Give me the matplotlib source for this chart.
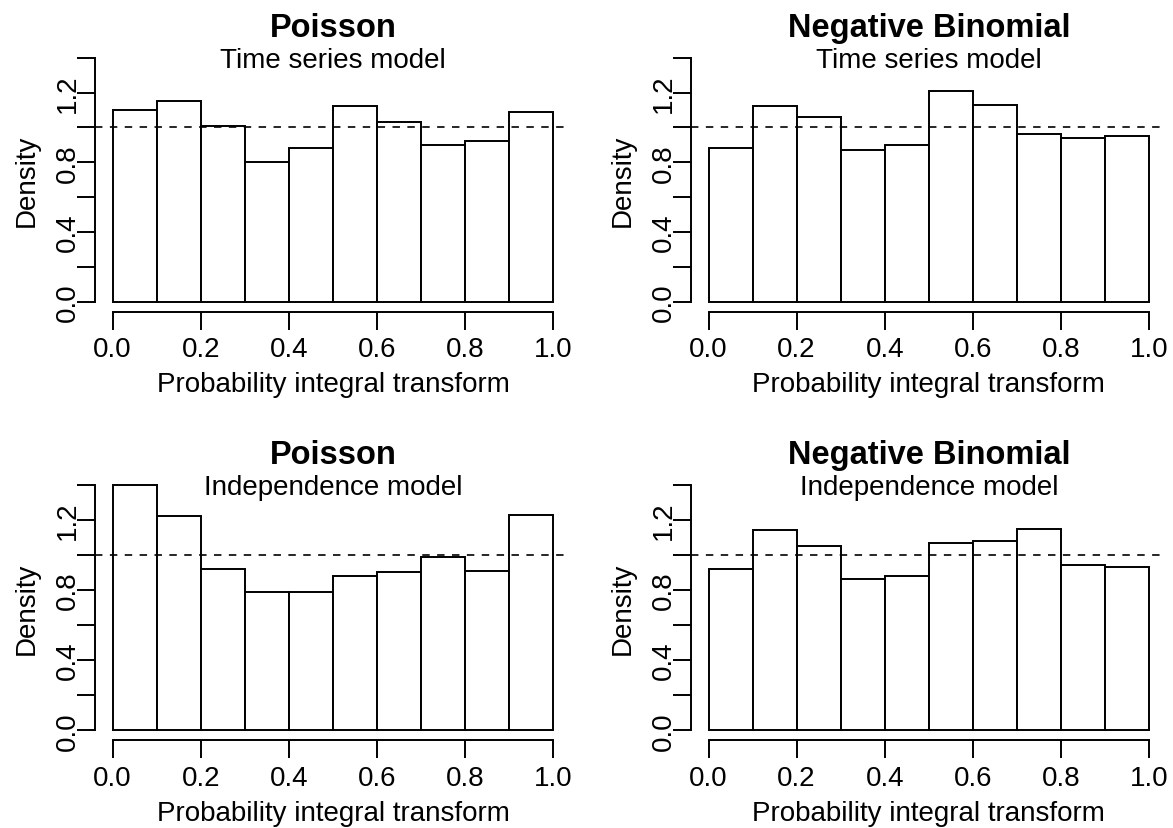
import matplotlib
matplotlib.use('Agg')
import matplotlib.pyplot as plt

plt.rcParams['font.family'] = ['Liberation Sans', 'DejaVu Sans']

# ---- data (densities per 0.1-wide PIT bin) ----
bin_left = [0.0, 0.1, 0.2, 0.3, 0.4, 0.5, 0.6, 0.7, 0.8, 0.9]
pois_ts = [1.10, 1.15, 1.01, 0.80, 0.88, 1.12, 1.03, 0.90, 0.92, 1.09]
nb_ts = [0.88, 1.12, 1.06, 0.87, 0.90, 1.21, 1.13, 0.96, 0.94, 0.95]
pois_ind = [1.40, 1.22, 0.92, 0.79, 0.79, 0.88, 0.90, 0.99, 0.91, 1.23]
nb_ind = [0.92, 1.14, 1.05, 0.86, 0.88, 1.07, 1.08, 1.15, 0.94, 0.93]

titles = ['Poisson', 'Negative Binomial', 'Poisson', 'Negative Binomial']
subtitles = ['Time series model', 'Time series model',
             'Independence model', 'Independence model']
x_ticks = [0.0, 0.2, 0.4, 0.6, 0.8, 1.0]
y_ticks = [0.0, 0.2, 0.4, 0.6, 0.8, 1.0, 1.2, 1.4]
y_ticklabels = ['0.0', '', '0.4', '', '0.8', '', '1.2', '']

W, H = 1173, 829
fig = plt.figure(figsize=(W / 100, H / 100), dpi=100)

# plot regions in pixels: left, top, right, bottom
boxes = [
    (95.0, 48.9, 570.9, 312.5),
    (690.9, 48.9, 1166.6, 312.5),
    (95.0, 475.9, 570.9, 741.1),
    (690.9, 475.9, 1166.6, 741.1),
]
series = [pois_ts, nb_ts, pois_ind, nb_ind]

FS = 20
LW = 1.4

for (l, t, r, b), vals, ttl, sub in zip(boxes, series, titles, subtitles):
    ax = fig.add_axes([l / W, 1 - b / H, (r - l) / W, (b - t) / H])
    ax.bar(bin_left, vals, width=0.1, align='edge',
           facecolor='white', edgecolor='black', linewidth=LW)
    ax.axhline(1.0, color='black', linewidth=LW * 0.85,
               linestyle=(0, (4.5, 4.5)))
    ax.set_xlim(-0.04, 1.04)
    ax.set_ylim(-0.056, 1.456)

    for s in ('top', 'right'):
        ax.spines[s].set_visible(False)
    ax.spines['bottom'].set_bounds(0, 1)
    ax.spines['left'].set_bounds(0, 1.4)
    for s in ('bottom', 'left'):
        ax.spines[s].set_linewidth(LW)

    ax.set_xticks(x_ticks)
    ax.set_xticklabels([f'{v:.1f}' for v in x_ticks], fontsize=FS)
    ax.set_yticks(y_ticks)
    ax.set_yticklabels(y_ticklabels, fontsize=FS, rotation=90, va='center')
    ax.tick_params(axis='both', length=12.7, width=LW, direction='out')
    ax.tick_params(axis='x', pad=5.0)
    ax.tick_params(axis='y', pad=-2.5)

    cx = (l + r) / 2
    fig.text(cx / W, 1 - (t - 12.0) / H, ttl, ha='center', va='baseline',
             fontsize=23.5, fontweight='bold')
    fig.text(cx / W, 1 - (t + 19.5) / H, sub, ha='center', va='baseline',
             fontsize=FS)
    fig.text(cx / W, 1 - (b + 80.0) / H, 'Probability integral transform',
             ha='center', va='baseline', fontsize=FS)
    fig.text((l - 61.0) / W, 1 - ((t + b) / 2) / H, 'Density',
             ha='center', va='baseline', rotation=90,
             rotation_mode='anchor', fontsize=FS)

fig.savefig('out.png', dpi=100, facecolor='white')
